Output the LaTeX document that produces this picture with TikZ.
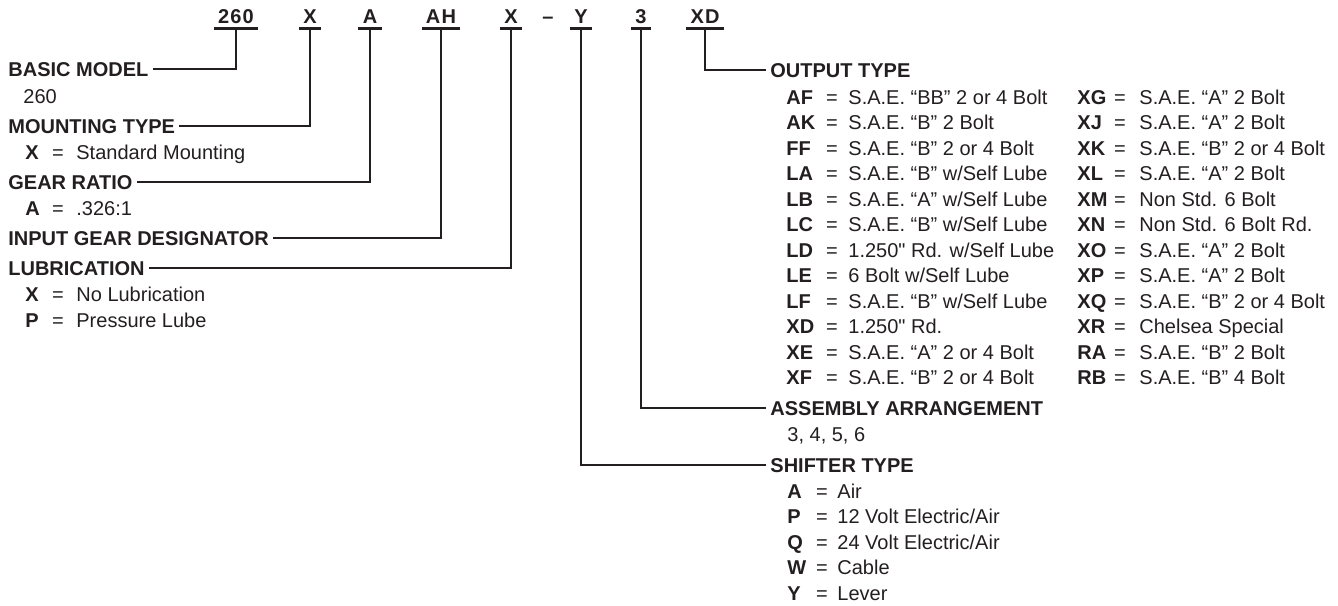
\documentclass[tikz,border=0pt]{standalone}
\usepackage{fontspec}
\setmainfont{Liberation Sans}
\usepackage{tikz}
\usetikzlibrary{positioning}
\definecolor{inkdark}{RGB}{35,31,32}

\begin{document}
\begin{tikzpicture}[x=.5pt,y=-.5pt,every node/.style={text=inkdark,inner sep=0pt},
    headtxt/.style={font=\bfseries,anchor=base west,inner xsep=2pt},
    keytxt/.style={font=\bfseries,anchor=base west},
    eqsign/.style={anchor=base},
    desctxt/.style={anchor=base west},
    topcode/.style={font=\bfseries\addfontfeature{LetterSpace=6},anchor=base,inner xsep=2pt,inner ysep=2pt},
    link/.style={draw=inkdark,line width=1.25pt}]
    \useasboundingbox (0,0) rectangle (1338,605);
    % model code across the top
    \foreach \t/\xx/\nm in {260/236/c260,X/310/cXa,A/370/cA,AH/441/cAH,X/511/cXb,Y/581/cY,3/641/cThree,XD/705/cXD}{
      \node[topcode] (\nm) at (\xx,24) {\t};
      \draw[link] (\nm.south west) -- (\nm.south east);}
    \node[topcode] (cDash) at (548,24) {–};
    % left side
    \node[headtxt] (basic) at (4,76) {BASIC MODEL};
    \node[desctxt] (basicv) at (23,103) {260};
    \node[headtxt] (mount) at (4,133) {MOUNTING TYPE};
    \node[headtxt] (gear) at (4,189) {GEAR RATIO};
    \node[headtxt] (input) at (4,245) {INPUT GEAR DESIGNATOR};
    \node[headtxt] (lube) at (4,275) {LUBRICATION};
    \foreach \k/\d/\yy/\nm in {X/Standard Mounting/159/mtx,A/.326:1/215/gra,X/No Lubrication/301/lbx,P/Pressure Lube/327/lbp}{
      \node[keytxt] (\nm k) at (25,\yy) {\k};
      \node[eqsign] (\nm e) at (58,\yy) {=};
      \node[desctxt] (\nm d) at (76,\yy) {\d};}
    % right side
    \node[headtxt] (output) at (766,77) {OUTPUT TYPE};
    \foreach \k/\d [count=\i from 0] in {AF/{S.A.E. “BB” 2 or 4 Bolt},AK/{S.A.E. “B” 2 Bolt},FF/{S.A.E. “B” 2 or 4 Bolt},
        LA/{S.A.E. “B” w/Self Lube},LB/{S.A.E. “A” w/Self Lube},LC/{S.A.E. “B” w/Self Lube},LD/{1.250\textquotedbl{} Rd. w/Self Lube},
        LE/{6 Bolt w/Self Lube},LF/{S.A.E. “B” w/Self Lube},XD/{1.250\textquotedbl{} Rd.},XE/{S.A.E. “A” 2 or 4 Bolt},XF/{S.A.E. “B” 2 or 4 Bolt}}{
      \node[keytxt] (ota\i k) at (786,{104+25.5*\i}) {\k};
      \node[eqsign] (ota\i e) at (832,{104+25.5*\i}) {=};
      \node[desctxt] (ota\i d) at (848,{104+25.5*\i}) {\d};}
    \foreach \k/\d [count=\i from 0] in {XG/{S.A.E. “A” 2 Bolt},XJ/{S.A.E. “A” 2 Bolt},XK/{S.A.E. “B” 2 or 4 Bolt},
        XL/{S.A.E. “A” 2 Bolt},XM/{Non Std. 6 Bolt},XN/{Non Std. 6 Bolt Rd.},XO/{S.A.E. “A” 2 Bolt},XP/{S.A.E. “A” 2 Bolt},
        XQ/{S.A.E. “B” 2 or 4 Bolt},XR/{Chelsea Special},RA/{S.A.E. “B” 2 Bolt},RB/{S.A.E. “B” 4 Bolt}}{
      \node[keytxt] (otb\i k) at (1077,{104+25.5*\i}) {\k};
      \node[eqsign] (otb\i e) at (1120,{104+25.5*\i}) {=};
      \node[desctxt] (otb\i d) at (1139,{104+25.5*\i}) {\d};}
    \node[headtxt] (assembly) at (766,415) {ASSEMBLY ARRANGEMENT};
    \node[desctxt] (assemblyv) at (787,441) {3, 4, 5, 6};
    \node[headtxt] (shifter) at (766,472) {SHIFTER TYPE};
    \foreach \k/\d [count=\i from 0] in {A/Air,P/{12 Volt Electric/Air},Q/{24 Volt Electric/Air},W/Cable,Y/Lever}{
      \node[keytxt] (sh\i k) at (787,{498+25.5*\i}) {\k};
      \node[eqsign] (sh\i e) at (822,{498+25.5*\i}) {=};
      \node[desctxt] (sh\i d) at (837,{498+25.5*\i}) {\d};}
    % connectors
    \draw[link] (c260.south) |- (basic.east);
    \draw[link] (cXa.south) |- (mount.east);
    \draw[link] (cA.south) |- (gear.east);
    \draw[link] (cAH.south) |- (input.east);
    \draw[link] (cXb.south) |- (lube.east);
    \draw[link] (cXD.south) |- (output.west);
    \draw[link] (cThree.south) |- (assembly.west);
    \draw[link] (cY.south) |- (shifter.west);
  \end{tikzpicture}
\end{document}
